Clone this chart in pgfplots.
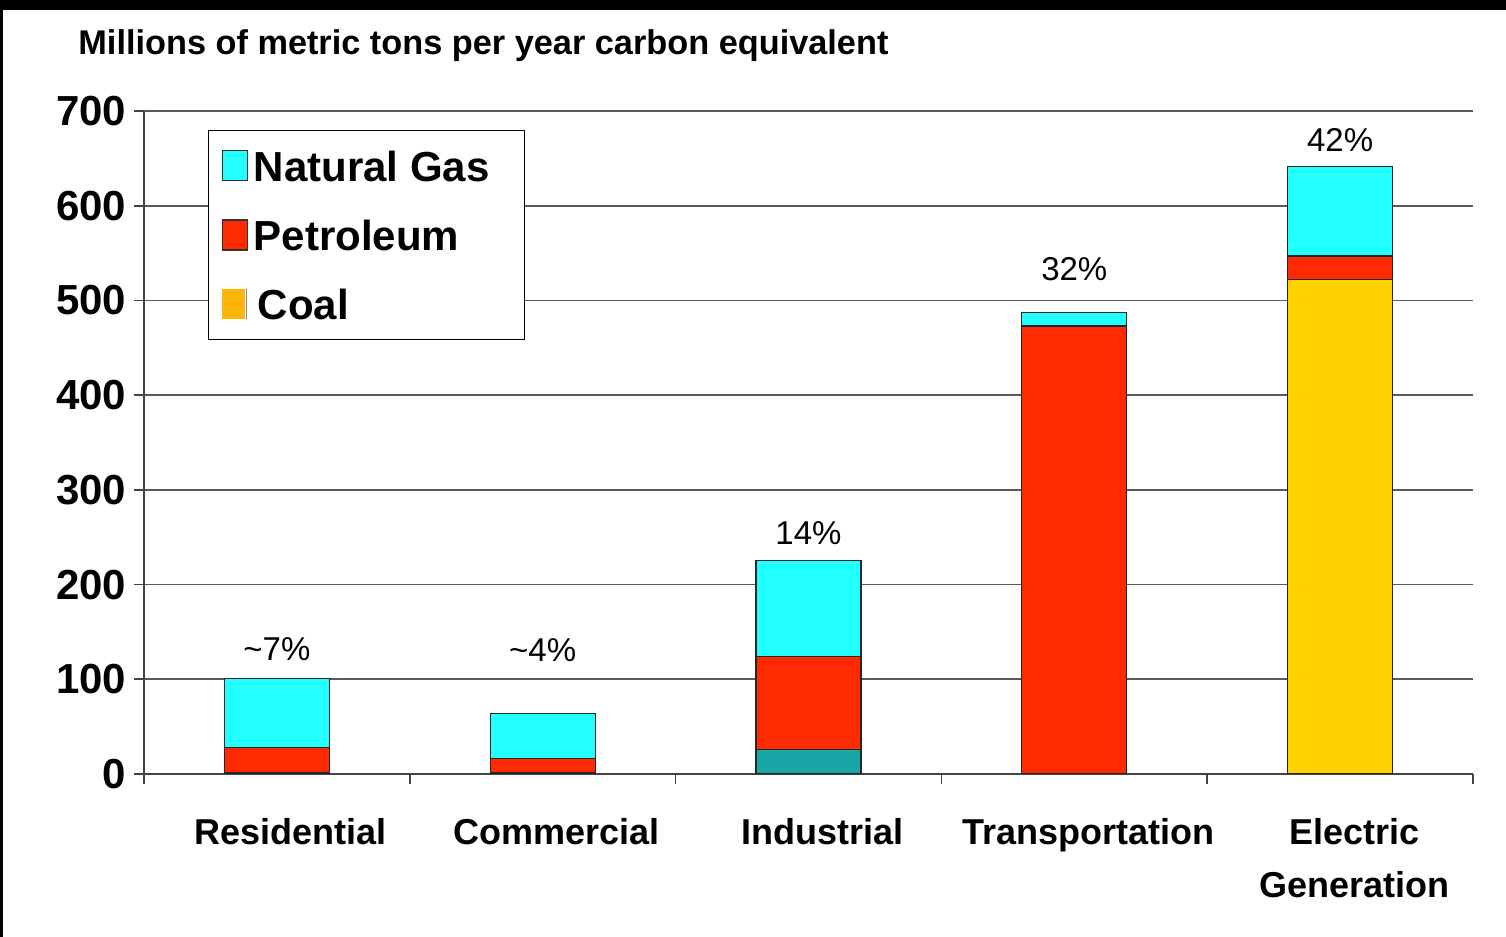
\documentclass[border=0pt]{standalone}
\usepackage{fontspec}
\setmainfont{Liberation Sans}
\usepackage{pgfplots}
\pgfplotsset{compat=1.18}
\definecolor{ngcyan}{HTML}{22FFFF}
\definecolor{petred}{HTML}{FF2A00}
\definecolor{coalyel}{HTML}{FFD200}
\definecolor{coalteal}{HTML}{18A6A6}
\definecolor{coalleg}{HTML}{FFB40A}
\definecolor{gridgray}{HTML}{5A5A5A}
\definecolor{axgray}{HTML}{444444}
\begin{document}
\begin{tikzpicture}
\begin{axis}[
  scale only axis, width=664.5pt, height=331.5pt,
  xmin=0.5, xmax=5.5, ymin=0, ymax=700,
  ybar stacked, bar width=0.395,
  axis x line*=bottom, axis y line*=left,
  axis line style={-, draw=axgray, line width=0.9pt},
  tick align=outside,
  /pgf/number format/assume math mode=true,
  ytick={0,100,...,700},
  ymajorgrids,
  major grid style={draw=gridgray, line width=0.9pt},
  major tick length=5pt,
  y tick style={draw=axgray, line width=0.9pt},
  yticklabel style={font=\fontsize{21}{21}\selectfont\bfseries, inner sep=0pt, anchor=east, xshift=-3.7pt},
  xtick={0.5,1.5,2.5,3.5,4.5,5.5},
  xticklabels={},
  x tick style={draw=axgray, line width=0.9pt},
  extra x ticks={1,2,3,4,5},
  extra x tick labels={Residential,Commercial,Industrial,Transportation,{Electric\\Generation}},
  extra x tick style={major tick length=0pt, grid=none},
  xticklabel style={font=\fontsize{18}{26.5}\selectfont\bfseries, align=center, inner sep=0pt, anchor=north, yshift=-22pt, xshift=7pt},
  legend style={at={(0.0482,0.9713)}, anchor=north west, draw=black, line width=0.6pt, fill=white,
    font=\fontsize{21}{25}\selectfont\bfseries, row sep=15.4pt, column sep=1pt,
    inner xsep=6.5pt, inner ysep=8pt, nodes={inner sep=2pt, text depth=0pt}},
  legend cell align=left,
]
\addlegendimage{legend image code/.code={\draw[fill=ngcyan, draw=black!80, line width=0.6pt] (0pt,-7.5pt) rectangle (12.5pt,7.5pt);}}
\addlegendentry{Natural Gas\rule{9pt}{0pt}}
\addlegendimage{legend image code/.code={\draw[fill=petred, draw=black!80, line width=0.6pt] (0pt,-7.5pt) rectangle (12.5pt,7.5pt);}}
\addlegendentry{Petroleum}
\addlegendimage{legend image code/.code={\draw[fill=coalleg, draw=none] (0pt,-7.5pt) rectangle (11.5pt,7.5pt); \draw[black!45, line width=0.6pt] (12.2pt,-7.5pt) -- (12.2pt,7.5pt);}}
\addlegendentry{\rule{2pt}{0pt}Coal}

\addplot[fill=coalyel, draw=black!85, line width=0.6pt] coordinates {(1,1) (2,1) (3,0) (4,0) (5,522)};
\addplot[fill=coalteal, draw=black!85, line width=0.6pt] coordinates {(1,0) (2,0) (3,26) (4,0) (5,0)};
\addplot[fill=petred, draw=black!85, line width=0.6pt] coordinates {(1,27) (2,15) (3,98) (4,473) (5,25)};
\addplot[fill=ngcyan, draw=black!85, line width=0.6pt] coordinates {(1,73) (2,48) (3,101) (4,14) (5,94)};

\node[font=\fontsize{16.5}{18}\selectfont] at (axis cs:1,132) {\textasciitilde 7\%};
\node[font=\fontsize{16.5}{18}\selectfont] at (axis cs:2,131) {\textasciitilde 4\%};
\node[font=\fontsize{16.5}{18}\selectfont] at (axis cs:3,254.5) {14\%};
\node[font=\fontsize{16.5}{18}\selectfont] at (axis cs:4,533) {32\%};
\node[font=\fontsize{16.5}{18}\selectfont] at (axis cs:5,669.5) {42\%};
\coordinate (O) at (rel axis cs:0,0);
\end{axis}
\pgfresetboundingbox
\begin{scope}[shift={(O)}, x=1pt, y=1pt]
\path[use as bounding box] (-72,-81.5) rectangle (681,387);
\fill[black] (-72,382.2) rectangle (681,387);
\fill[black] (-72,-81.5) rectangle (-70.4,387);
\node[anchor=base west, font=\fontsize{17.15}{20}\selectfont\bfseries, inner sep=0pt] at (-33,359.5) {Millions of metric tons per year carbon equivalent};
\end{scope}
\end{tikzpicture}
\end{document}
